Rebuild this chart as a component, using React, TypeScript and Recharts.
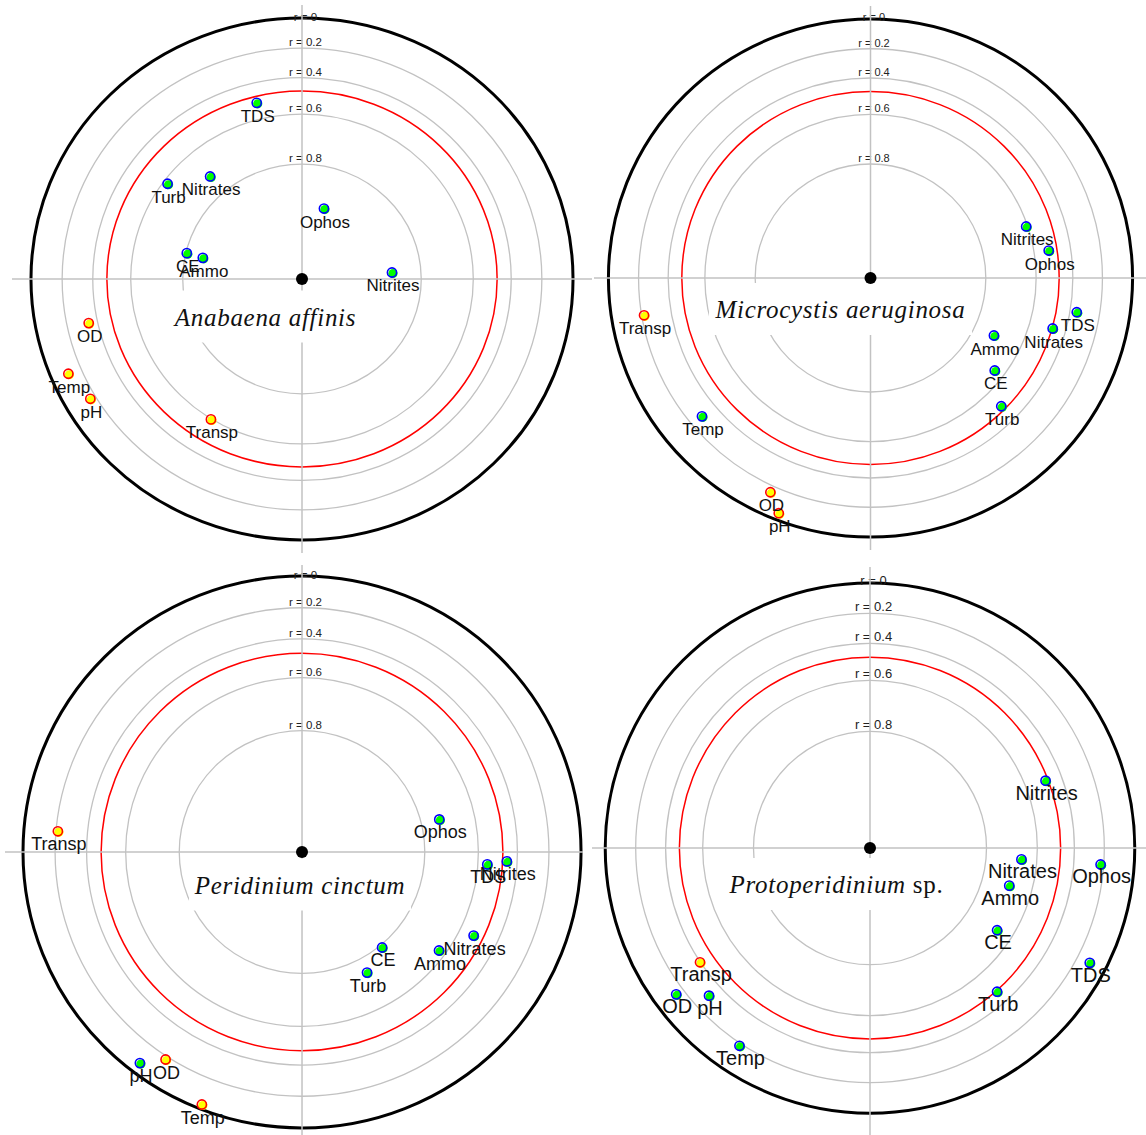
import React from 'react';
import { ScatterChart, Scatter, XAxis, YAxis, ReferenceArea, ReferenceLine, ReferenceDot } from 'recharts';

// ---- data -------------------------------------------------------------
const variables = ['Temp', 'pH', 'OD', 'Transp', 'CE', 'TDS', 'Turb', 'Nitrates', 'Nitrites', 'Ammo', 'Ophos'];

// correlation rings (r value labels) and their radial position (fraction of the outer circle)
const ringLabels = ['r = 0', 'r = 0.2', 'r = 0.4', 'r = 0.6', 'r = 0.8'];
const ringRadius = [1, 0.885, 0.772, 0.632, 0.44];
const criticalRingRadius = 0.72;

// point coordinates (unit = outer circle) and sign of correlation
const anabaenaX = [-0.862, -0.781, -0.787, -0.336, -0.425, -0.167, -0.496, -0.339, 0.332, -0.366, 0.081];
const anabaenaY = [-0.363, -0.459, -0.169, -0.538, 0.099, 0.675, 0.365, 0.393, 0.025, 0.081, 0.27];
const anabaenaSign = ['-', '-', '-', '-', '+', '+', '+', '+', '+', '+', '+'];

const microcystisX = [-0.643, -0.35, -0.382, -0.864, 0.474, 0.787, 0.499, 0.695, 0.594, 0.471, 0.68];
const microcystisY = [-0.534, -0.908, -0.827, -0.144, -0.357, -0.132, -0.495, -0.195, 0.199, -0.222, 0.106];
const microcystisSign = ['+', '-', '-', '-', '+', '+', '+', '+', '+', '+', '+'];

const peridiniumX = [-0.359, -0.581, -0.489, -0.875, 0.287, 0.664, 0.233, 0.615, 0.734, 0.491, 0.492];
const peridiniumY = [-0.915, -0.765, -0.752, 0.075, -0.346, -0.045, -0.437, -0.303, -0.034, -0.357, 0.118];
const peridiniumSign = ['-', '+', '-', '-', '+', '+', '+', '+', '+', '+', '+'];

const protoperidiniumX = [-0.493, -0.608, -0.732, -0.642, 0.48, 0.83, 0.48, 0.572, 0.663, 0.526, 0.871];
const protoperidiniumY = [-0.746, -0.557, -0.552, -0.431, -0.31, -0.433, -0.542, -0.043, 0.254, -0.142, -0.062];
const protoperidiniumSign = ['+', '+', '+', '-', '+', '+', '+', '+', '+', '+', '+'];

const speciesItalic = ['Anabaena affinis', 'Microcystis aeruginosa', 'Peridinium cinctum', 'Protoperidinium'];
const speciesPlain = ['', '', '', ' sp.'];

// ---- layout -----------------------------------------------------------
const panels = [
  { left: 12, top: 4.5, width: 580, height: 548, xDomain: [-1.07, 1.07], yDomain: [-1.05, 1.05],
    labelSize: 17, ringFont: 11.5, title: { dx: -36.5, dy: 46.5, boxW: 193 } },
  { left: 594, top: 5.5, width: 553, height: 544, xDomain: [-1.055, 1.055], yDomain: [-1.05, 1.05],
    labelSize: 17, ringFont: 11, title: { dx: -30, dy: 40, boxW: 263 } },
  { left: 5, top: 564.5, width: 578, height: 574, xDomain: [-1.0645, 1.007], yDomain: [-1.04, 1.04],
    labelSize: 18, ringFont: 11.5, title: { dx: -2, dy: 41.5, boxW: 222 } },
  { left: 592, top: 567, width: 556, height: 570, xDomain: [-1.05, 1.05], yDomain: [-1.09, 1.06],
    labelSize: 20, ringFont: 13, title: { dx: -33.5, dy: 45, boxW: 229 } },
];

const GRAY = '#c2c2c2';
const SANS = 'Liberation Sans, Arial, sans-serif';
const SERIF = 'Liberation Serif, Times New Roman, serif';

function ringShape(stroke: string, width: number, label: string | null, fontSize: number, isOuter: boolean) {
  return (p: any) => {
    const cx = p.x + p.width / 2;
    const cy = p.y + p.height / 2;
    return (
      <g>
        <ellipse cx={cx} cy={cy} rx={p.width / 2} ry={p.height / 2} fill="none" stroke={stroke} strokeWidth={width} />
        {label ? (
          <text x={cx + 3.5} y={isOuter ? p.y + 2.5 : p.y - 2} textAnchor="middle" fontFamily={SANS} fontSize={fontSize} fill="#222">
            {label}
          </text>
        ) : null}
      </g>
    );
  };
}

function markerShape(fontSize: number) {
  return (p: any) => {
    const pos = p.payload.sign === '+';
    const fill = pos ? '#00ff00' : '#ffff00';
    const ring = pos ? '#0000ff' : '#ff0000';
    return (
      <g>
        <circle cx={p.cx + 1} cy={p.cy + 1} r={4.6} fill={fill} />
        <circle cx={p.cx} cy={p.cy} r={4.6} fill="none" stroke={ring} strokeWidth={1.6} />
        <text x={p.cx + 1} y={p.cy + 19} textAnchor="middle" fontFamily={SANS} fontSize={fontSize} fill="#111">
          {p.payload.name}
        </text>
      </g>
    );
  };
}

function Panel({ idx, xs, ys, signs }: { idx: number; xs: number[]; ys: number[]; signs: string[] }) {
  const cfg = panels[idx];
  const data = variables.map((name, i) => ({ name, x: xs[i], y: ys[i], sign: signs[i] }));
  const t = cfg.title;
  return (
    <div style={{ position: 'absolute', left: cfg.left, top: cfg.top }}>
      <ScatterChart width={cfg.width} height={cfg.height} margin={{ top: 0, right: 0, bottom: 0, left: 0 }}>
        <XAxis type="number" dataKey="x" domain={cfg.xDomain} hide />
        <YAxis type="number" dataKey="y" domain={cfg.yDomain} hide />
        {ringRadius.map((rr, i) =>
          i === 0 ? null : (
            <ReferenceArea key={'ring' + i} x1={-rr} x2={rr} y1={-rr} y2={rr} ifOverflow="visible"
              shape={ringShape(GRAY, 1.3, ringLabels[i], cfg.ringFont, false)} />
          )
        )}
        <ReferenceArea x1={-criticalRingRadius} x2={criticalRingRadius} y1={-criticalRingRadius} y2={criticalRingRadius}
          ifOverflow="visible" shape={ringShape('#ff0000', 1.5, null, cfg.ringFont, false)} />
        <ReferenceArea x1={-ringRadius[0]} x2={ringRadius[0]} y1={-ringRadius[0]} y2={ringRadius[0]}
          ifOverflow="visible" shape={ringShape('#000000', 3, ringLabels[0], cfg.ringFont, true)} />
        <ReferenceLine x={0} stroke={GRAY} strokeWidth={1.5} />
        <ReferenceLine y={0} stroke={GRAY} strokeWidth={1.5} />
        <ReferenceDot x={0} y={0} r={6} ifOverflow="visible"
          shape={(p: any) => (
            <g>
              <rect x={p.cx + t.dx - t.boxW / 2} y={p.cy + t.dy - 35} width={t.boxW} height={52} fill="#ffffff" />
              <text x={p.cx + t.dx} y={p.cy + t.dy} textAnchor="middle" fontFamily={SERIF} fontSize={25}
                letterSpacing={0.7} fill="#111">
                <tspan fontStyle="italic">{speciesItalic[idx]}</tspan>
                {speciesPlain[idx] ? <tspan>{speciesPlain[idx]}</tspan> : null}
              </text>
              <circle cx={p.cx} cy={p.cy} r={6} fill="#000" />
            </g>
          )} />
        <Scatter data={data} isAnimationActive={false} shape={markerShape(cfg.labelSize)} />
      </ScatterChart>
    </div>
  );
}

export default function App() {
  return (
    <div style={{ position: 'absolute', left: 0, top: 0, width: 1146, height: 1135, background: '#fff', overflow: 'hidden' }}>
      <Panel idx={0} xs={anabaenaX} ys={anabaenaY} signs={anabaenaSign} />
      <Panel idx={1} xs={microcystisX} ys={microcystisY} signs={microcystisSign} />
      <Panel idx={2} xs={peridiniumX} ys={peridiniumY} signs={peridiniumSign} />
      <Panel idx={3} xs={protoperidiniumX} ys={protoperidiniumY} signs={protoperidiniumSign} />
    </div>
  );
}
